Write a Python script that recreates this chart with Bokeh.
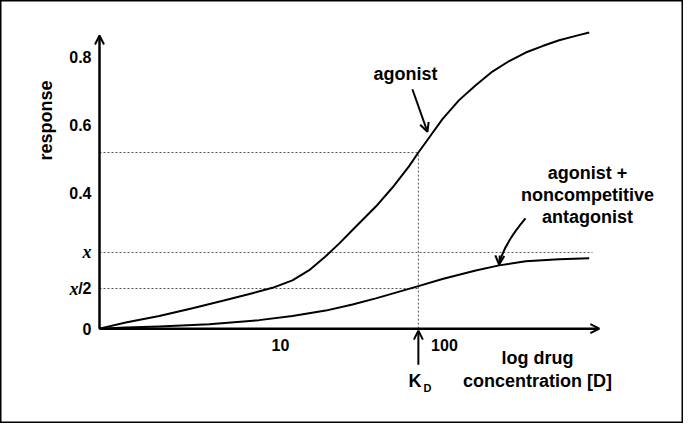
import math
from bokeh.plotting import figure
from bokeh.models import Range1d, FixedTicker, Arrow, OpenHead
from bokeh.core.properties import value
from bokeh.embed import file_html
from bokeh.resources import INLINE

# ---- data (x in log-concentration units, "10" at 1) ----
agonist_x = [0.0, 0.145, 0.330, 0.514, 0.698, 0.845, 0.956, 1.066, 1.159, 1.250, 1.324, 1.398,
             1.527, 1.619, 1.711, 1.762, 1.822, 1.895, 1.987, 2.079, 2.171, 2.264, 2.355, 2.448,
             2.540, 2.632, 2.706]
agonist_y = [0.0, 0.018, 0.037, 0.060, 0.084, 0.104, 0.120, 0.142, 0.172, 0.213, 0.250, 0.290,
             0.359, 0.415, 0.478, 0.518, 0.562, 0.616, 0.672, 0.716, 0.756, 0.787, 0.812, 0.831,
             0.848, 0.861, 0.871]

antag_x = [0.0, 0.144, 0.330, 0.606, 0.882, 1.066, 1.250, 1.398, 1.527, 1.762, 1.895, 2.079,
           2.208, 2.355, 2.540, 2.706]
antag_y = [0.0, 0.003, 0.006, 0.013, 0.025, 0.037, 0.053, 0.071, 0.089, 0.125, 0.146, 0.171,
           0.186, 0.198, 0.204, 0.207]

ytick_vals = [0, 0.4, 0.6, 0.8]
ytick_labels = ["0", "0.4", "0.6", "0.8"]
xtick_vals = [1.0, 1.906]
xtick_labels = ["10", "100"]

kd = 1.762          # K_D position
half_resp = 0.518   # agonist response at K_D
x_level = 0.224     # max of agonist + antagonist ("x")
x_half = 0.118      # x/2
x_end = 2.762       # x-axis arrow tip
y_end = 0.862       # y-axis arrow tip

BOLD = value("Liberation Sans")
SERIF = value("Liberation Serif")

p = figure(width=683, height=423, output_backend="svg", toolbar_location=None,
           x_range=Range1d(-0.547, 3.227), y_range=Range1d(-0.279, 0.965),
           min_border=0)
p.grid.visible = False
p.outline_line_color = "black"
p.outline_line_width = 2

# axes placed at origin
for ax in (p.xaxis[0], p.yaxis[0]):
    ax.fixed_location = 0
    ax.axis_line_color = None
    ax.major_tick_line_color = None
    ax.minor_tick_line_color = None
    ax.major_label_text_font = "Liberation Sans"
    ax.major_label_text_font_style = "bold"
    ax.major_label_text_font_size = "16px"
    ax.major_label_text_color = "black"
    ax.major_tick_out = 0
    ax.major_tick_in = 0

p.yaxis.ticker = FixedTicker(ticks=ytick_vals)
p.yaxis.major_label_overrides = {v: l for v, l in zip(ytick_vals, ytick_labels)}
p.yaxis.major_label_standoff = 8
p.xaxis.ticker = FixedTicker(ticks=xtick_vals)
p.xaxis.major_label_overrides = {v: l for v, l in zip(xtick_vals, xtick_labels)}
p.xaxis.major_label_standoff = 10

# axis lines with arrow heads
p.add_layout(Arrow(x_start=0, y_start=0, x_end=x_end, y_end=0, line_width=2.5, line_color="black",
                   end=OpenHead(size=9, line_width=2, line_color="black")))
p.add_layout(Arrow(x_start=0, y_start=0, x_end=0, y_end=y_end, line_width=2.5, line_color="black",
                   end=OpenHead(size=9, line_width=2, line_color="black")))

# dotted reference lines
dash = dict(line_color="#555555", line_width=1, line_dash="2 2")
p.segment(x0=[0, kd, 0, 0], y0=[half_resp, 0, x_level, x_half],
          x1=[kd, kd, 2.724, kd], y1=[half_resp, half_resp, x_level, x_half], **dash)

# curves
p.line(agonist_x, agonist_y, line_color="black", line_width=2, line_join="round")
p.line(antag_x, antag_y, line_color="black", line_width=2, line_join="round")

# annotation arrows
p.add_layout(Arrow(x_start=1.729, y_start=0.704, x_end=1.812, y_end=0.579, line_width=2, line_color="black",
                   end=OpenHead(size=9, line_width=2, line_color="black")))
p.bezier(x0=[2.354], y0=[0.324], x1=[2.208], y1=[0.19], cx0=[2.265], cy0=[0.268], cx1=[2.221], cy1=[0.218],
         line_color="black", line_width=2)
p.add_layout(Arrow(x_start=2.212, y_start=0.215, x_end=2.208, y_end=0.188, line_width=2, line_color="black",
                   end=OpenHead(size=9, line_width=2, line_color="black")))
# K_D arrow
p.add_layout(Arrow(x_start=kd, y_start=-0.106, x_end=kd, y_end=-0.006, line_width=2, line_color="black",
                   end=OpenHead(size=9, line_width=2, line_color="black")))

# texts
txt = dict(text_font=BOLD, text_font_style="bold", text_font_size="18px", text_color="black",
           text_align="center", text_baseline="middle")
p.text(x=[1.691], y=[0.75], text=["agonist"], **txt)
p.text(x=[2.696, 2.696, 2.696], y=[0.459, 0.394, 0.329],
       text=["agonist +", "noncompetitive", "antagonist"], **txt)
p.text(x=[2.42, 2.42], y=[-0.085, -0.153], text=["log drug", "concentration [D]"], **txt)
p.text(x=[-0.298], y=[0.612], text=["response"], angle=math.pi / 2, **txt)
p.text(x=[1.743], y=[-0.153], text=["K"], **txt)
p.text(x=[1.812], y=[-0.176], text=["D"], text_font=BOLD, text_font_style="bold", text_font_size="11px",
       text_color="black", text_align="center", text_baseline="middle")

# x and x/2 labels on the y-axis
p.text(x=[0], y=[x_level], text=["x"], x_offset=-8, text_font=SERIF, text_font_style="bold italic",
       text_font_size="18px", text_align="right", text_baseline="middle", text_color="black")
p.text(x=[0], y=[x_half], text=["/2"], x_offset=-8, text_font=BOLD, text_font_style="bold",
       text_font_size="16px", text_align="right", text_baseline="middle", text_color="black")
p.text(x=[0], y=[x_half], text=["x"], x_offset=-21, text_font=SERIF, text_font_style="bold italic",
       text_font_size="18px", text_align="right", text_baseline="middle", text_color="black")

open("out.html", "w").write(file_html(p, INLINE))
